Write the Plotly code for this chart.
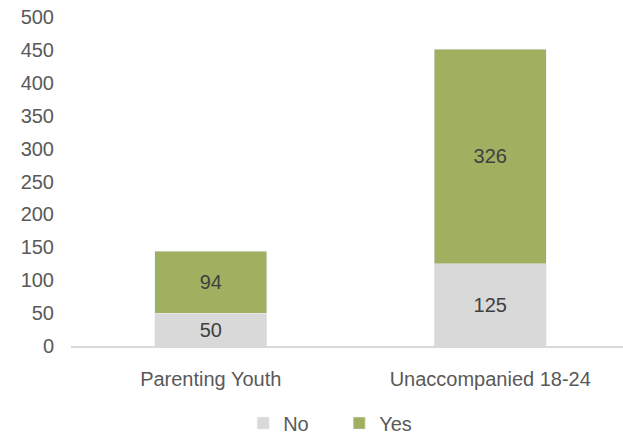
import plotly.graph_objects as go

categories = ["Parenting Youth", "Unaccompanied 18-24"]
no_vals = [50, 125]
yes_vals = [94, 326]
tick_vals = [0, 50, 100, 150, 200, 250, 300, 350, 400, 450, 500]

FONT = "Arial, Liberation Sans, sans-serif"
GREY = "#595959"

fig = go.Figure()
fig.add_trace(go.Bar(name="No", x=categories, y=no_vals, marker_color="#D9D9D9",
                     text=no_vals, textposition="inside", insidetextanchor="middle",
                     textfont=dict(size=20, color="#404040")))
fig.add_trace(go.Bar(name="Yes", x=categories, y=yes_vals, marker_color="#9FB161",
                     text=yes_vals, textposition="inside", insidetextanchor="middle",
                     textfont=dict(size=20, color="#404040")))

fig.update_layout(
    barmode="stack",
    bargap=0.6,
    width=630, height=435,
    margin=dict(l=71, r=0, t=17, b=89, autoexpand=False),
    paper_bgcolor="white", plot_bgcolor="white",
    font=dict(family=FONT, size=20, color=GREY),
    showlegend=True,
    legend=dict(orientation="h", x=0.308, xanchor="left", y=-0.175, yanchor="top",
                font=dict(size=20, color=GREY), traceorder="normal",
                itemwidth=30, entrywidth=51, entrywidthmode="pixels"),
    xaxis=dict(showline=True, linecolor="#D9D9D9", linewidth=2, ticks="",
               automargin=False, ticklabelstandoff=14,
               tickfont=dict(size=20, color=GREY)),
    yaxis=dict(range=[0, 500], tickvals=tick_vals, showgrid=False, zeroline=False,
               showline=False, ticks="", ticklabelstandoff=16, automargin=False,
               tickfont=dict(size=20, color=GREY)),
    uniformtext=dict(mode="show", minsize=20),
)

fig.write_html("out.html", config={"displayModeBar": False},
               post_script="document.body.style.margin='0';document.body.style.overflow='hidden';")
